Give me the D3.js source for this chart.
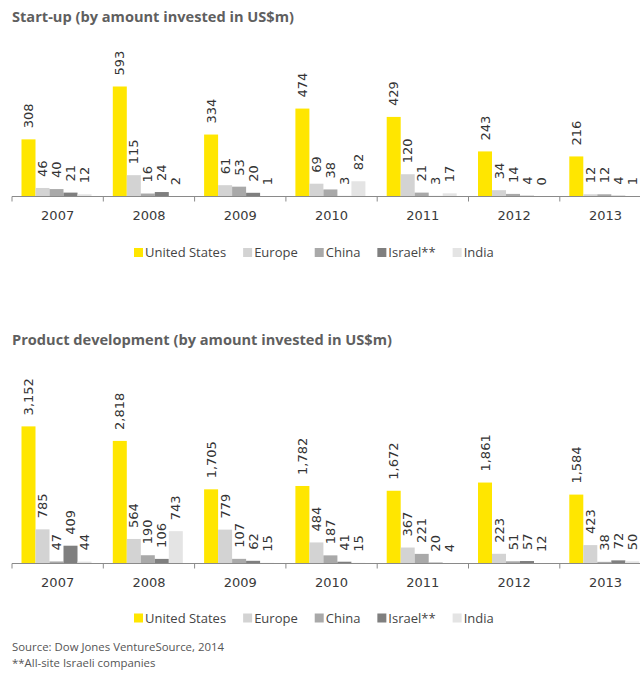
<!DOCTYPE html>
<html>
<head>
<meta charset="utf-8">
<script src="https://cdn.jsdelivr.net/npm/d3@7"></script>
<style>
  html, body { margin: 0; padding: 0; background: #fff; }
  svg { display: block; }
  .title { font-family: "Open Sans", sans-serif; font-weight: 700; font-size: 14.6px; fill: #5f5f5f; }
  .val { font-family: "DejaVu Sans", Verdana, sans-serif; font-size: 13px; fill: #333; }
  .year { font-family: "DejaVu Sans", Verdana, sans-serif; font-size: 13px; fill: #3a3a3a; }
  .legend { font-family: "Open Sans", sans-serif; font-size: 13px; fill: #444; }
  .note { font-family: "Open Sans", sans-serif; font-size: 11.4px; fill: #555; }
</style>
</head>
<body>
<script>
// Years on the category axis
const years = ["2007", "2008", "2009", "2010", "2011", "2012", "2013"];
const regions = ["United States", "Europe", "China", "Israel**", "India"];
const regionColors = ["#FFE600", "#D3D3D3", "#A9A9A9", "#7F7F7F", "#E4E4E4"];

// Start-up stage, US$m
const startUS     = [308, 593, 334, 474, 429, 243, 216];
const startEurope = [46, 115, 61, 69, 120, 34, 12];
const startChina  = [40, 16, 53, 38, 21, 14, 12];
const startIsrael = [21, 24, 20, 3, 3, 4, 4];
const startIndia  = [12, 2, 1, 82, 17, 0, 1];

// Product development stage, US$m
const prodUS     = [3152, 2818, 1705, 1782, 1672, 1861, 1584];
const prodEurope = [785, 564, 779, 484, 367, 223, 423];
const prodChina  = [47, 190, 107, 187, 221, 51, 38];
const prodIsrael = [409, 106, 62, 41, 20, 57, 72];
const prodIndia  = [44, 743, 15, 15, 4, 12, 50];

const W = 640, H = 673;
const svg = d3.select("body").append("svg").attr("width", W).attr("height", H);

const x0 = d3.scaleBand().domain(years).range([12, 12 + 7 * 91.3]).padding(0);
const x1 = d3.scaleBand().domain(regions).range([9.5, 79.5]).padding(0);
const color = d3.scaleOrdinal().domain(regions).range(regionColors);

function panel(opts) {
  const { title, titleY, base, yMax, top, series, fmt, legendY } = opts;
  const g = svg.append("g");
  g.append("text").attr("class", "title").attr("x", 12).attr("y", titleY).text(title);

  const y = d3.scaleLinear().domain([0, yMax]).range([base, top]);

  const rows = years.map((yr, i) => ({ yr, vals: regions.map((r, k) => ({ r, v: series[k][i] })) }));

  const grp = g.selectAll("g.grp").data(rows).join("g")
    .attr("class", "grp")
    .attr("transform", d => `translate(${x0(d.yr)},0)`);

  grp.selectAll("rect").data(d => d.vals).join("rect")
    .attr("x", d => x1(d.r))
    .attr("width", x1.bandwidth())
    .attr("y", d => y(d.v))
    .attr("height", d => base - y(d.v))
    .attr("fill", d => color(d.r));

  grp.selectAll("text.val").data(d => d.vals).join("text")
    .attr("class", "val")
    .attr("transform", d => `translate(${x1(d.r) + x1.bandwidth() / 2},${y(d.v) - 11}) rotate(-90)`)
    .attr("dy", "0.36em")
    .attr("text-anchor", "start")
    .text(d => fmt(d.v));

  // Category axis
  const axis = g.append("g").attr("transform", `translate(0,${base})`)
    .call(d3.axisBottom(x0).tickSize(0).tickFormat(""));
  axis.select(".domain").attr("stroke", "#8a8a8a").attr("d", `M12,0H${W}`);
  axis.selectAll(".tick").remove();
  g.append("g").selectAll("line").data(years).join("line")
    .attr("x1", d => x0(d)).attr("x2", d => x0(d))
    .attr("y1", base).attr("y2", base + 5)
    .attr("stroke", "#8a8a8a");
  g.append("g").selectAll("text").data(years).join("text")
    .attr("class", "year")
    .attr("x", d => x0(d) + x0.bandwidth() / 2)
    .attr("y", base + 23.5)
    .attr("text-anchor", "middle")
    .text(d => d);

  // Legend
  const lg = g.append("g");
  let cx = 134;
  regions.forEach(r => {
    lg.append("rect").attr("x", cx).attr("y", legendY - 4.5).attr("width", 9).attr("height", 9).attr("fill", color(r));
    const t = lg.append("text").attr("class", "legend").attr("x", cx + 11).attr("y", legendY).attr("dy", "0.35em").text(r);
    cx += 11 + t.node().getComputedTextLength() + 17;
  });
}

panel({
  title: "Start-up (by amount invested in US$m)",
  titleY: 22, base: 196.5, yMax: 600, top: 196.5 - 600 * 0.1855,
  series: [startUS, startEurope, startChina, startIsrael, startIndia],
  fmt: d3.format("d"), legendY: 252.5
});

panel({
  title: "Product development (by amount invested in US$m)",
  titleY: 345, base: 563.5, yMax: 3200, top: 563.5 - 3200 * 0.0435,
  series: [prodUS, prodEurope, prodChina, prodIsrael, prodIndia],
  fmt: d3.format(","), legendY: 618
});

svg.append("text").attr("class", "note").attr("x", 12).attr("y", 651).text("Source: Dow Jones VentureSource, 2014");
svg.append("text").attr("class", "note").attr("x", 12).attr("y", 667).text("**All-site Israeli companies");
</script>
</body>
</html>
